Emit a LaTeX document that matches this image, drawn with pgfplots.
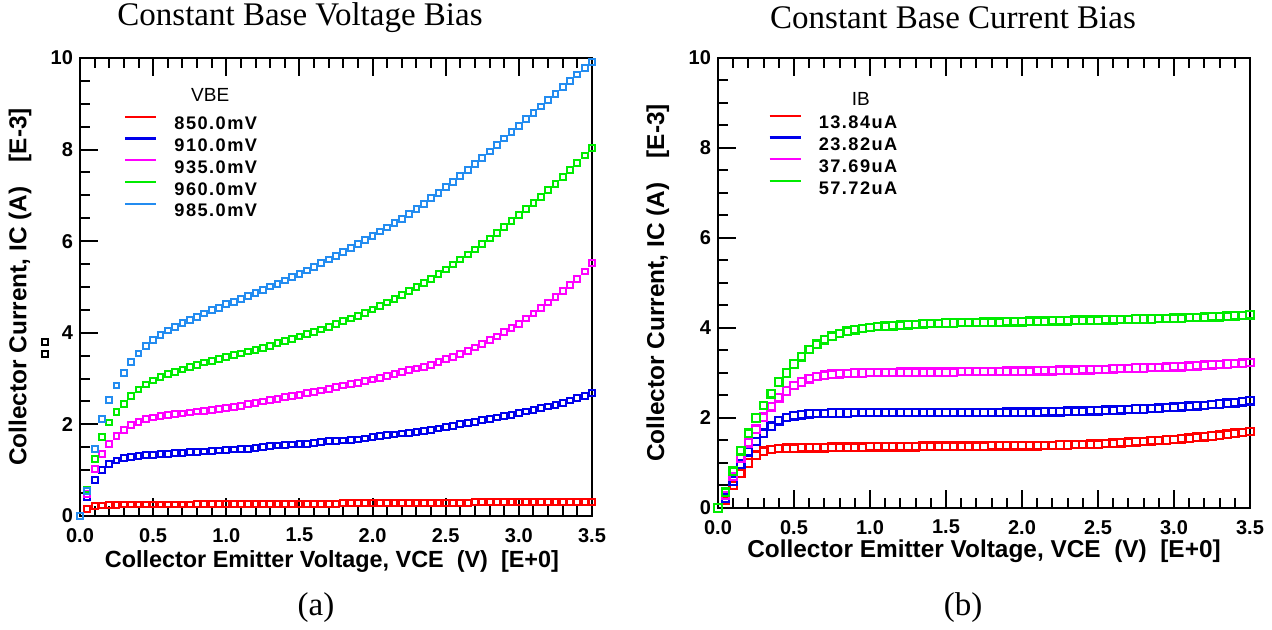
\documentclass[border=0pt]{standalone}
\usepackage{fontspec}
\setmainfont{Liberation Sans}
\newfontfamily\seriffont{Liberation Serif}
\newfontfamily\legfont[LetterSpace=8]{Liberation Sans}
\usepackage{pgfplots}
\usepackage{pgfplotstable}
\pgfplotsset{compat=1.18}

\definecolor{cred}{RGB}{255,0,0}
\definecolor{cblue}{RGB}{0,0,235}
\definecolor{cmag}{RGB}{255,0,255}
\definecolor{cgreen}{RGB}{0,235,0}
\definecolor{clblue}{RGB}{35,140,240}

\pgfplotstableread{
v r b m g lb
0.00 0.00 0.00 0.00 0.00 0.00
0.05 0.15 0.42 0.48 0.58 0.55
0.10 0.21 0.78 1.03 1.24 1.46
0.15 0.23 1.01 1.36 1.73 2.12
0.20 0.24 1.13 1.58 2.04 2.54
0.25 0.24 1.21 1.74 2.27 2.85
0.30 0.25 1.26 1.88 2.45 3.12
0.35 0.25 1.29 1.98 2.62 3.36
0.40 0.25 1.31 2.06 2.76 3.55
0.45 0.25 1.33 2.11 2.87 3.71
0.50 0.25 1.34 2.15 2.96 3.84
0.55 0.25 1.35 2.18 3.03 3.95
0.60 0.25 1.36 2.20 3.10 4.05
0.65 0.25 1.37 2.22 3.15 4.13
0.70 0.25 1.38 2.24 3.20 4.21
0.75 0.25 1.39 2.26 3.25 4.28
0.80 0.26 1.40 2.28 3.30 4.35
0.85 0.26 1.41 2.30 3.35 4.42
0.90 0.26 1.42 2.32 3.39 4.49
0.95 0.26 1.43 2.34 3.43 4.55
1.00 0.26 1.44 2.36 3.47 4.62
1.05 0.26 1.45 2.38 3.51 4.68
1.10 0.26 1.46 2.41 3.55 4.74
1.15 0.26 1.47 2.44 3.59 4.80
1.20 0.26 1.49 2.47 3.63 4.87
1.25 0.26 1.51 2.50 3.67 4.94
1.30 0.27 1.53 2.53 3.72 5.01
1.35 0.27 1.54 2.56 3.77 5.07
1.40 0.27 1.55 2.59 3.82 5.14
1.45 0.27 1.56 2.62 3.87 5.21
1.50 0.27 1.57 2.65 3.92 5.28
1.55 0.27 1.58 2.68 3.97 5.36
1.60 0.27 1.60 2.71 4.02 5.44
1.65 0.27 1.61 2.74 4.07 5.52
1.70 0.27 1.63 2.78 4.13 5.60
1.75 0.27 1.64 2.82 4.19 5.68
1.80 0.28 1.65 2.85 4.25 5.76
1.85 0.28 1.66 2.88 4.31 5.85
1.90 0.28 1.67 2.91 4.37 5.94
1.95 0.28 1.69 2.94 4.44 6.03
2.00 0.28 1.72 2.98 4.51 6.12
2.05 0.28 1.74 3.02 4.58 6.21
2.10 0.28 1.76 3.06 4.66 6.30
2.15 0.28 1.78 3.10 4.74 6.39
2.20 0.28 1.80 3.14 4.82 6.48
2.25 0.29 1.82 3.18 4.91 6.59
2.30 0.29 1.84 3.22 5.00 6.70
2.35 0.29 1.86 3.26 5.09 6.82
2.40 0.29 1.88 3.30 5.18 6.94
2.45 0.29 1.91 3.36 5.28 7.06
2.50 0.29 1.94 3.42 5.38 7.18
2.55 0.29 1.97 3.48 5.49 7.30
2.60 0.29 2.00 3.54 5.60 7.42
2.65 0.29 2.03 3.61 5.71 7.55
2.70 0.30 2.06 3.68 5.82 7.68
2.75 0.30 2.09 3.76 5.94 7.82
2.80 0.30 2.12 3.84 6.06 7.96
2.85 0.30 2.15 3.92 6.18 8.10
2.90 0.30 2.18 4.01 6.31 8.24
2.95 0.30 2.21 4.10 6.44 8.38
3.00 0.30 2.25 4.20 6.57 8.52
3.05 0.30 2.28 4.31 6.70 8.66
3.10 0.30 2.31 4.42 6.83 8.80
3.15 0.31 2.35 4.54 6.97 8.94
3.20 0.31 2.39 4.66 7.11 9.08
3.25 0.31 2.43 4.78 7.25 9.22
3.30 0.31 2.47 4.91 7.40 9.36
3.35 0.31 2.52 5.04 7.55 9.50
3.40 0.31 2.57 5.18 7.71 9.64
3.45 0.31 2.62 5.34 7.87 9.78
3.50 0.31 2.68 5.52 8.03 9.92
}\vbetable

\pgfplotstableread{
v r b m g
0.00 0.00 0.00 0.00 0.00
0.05 0.17 0.22 0.28 0.35
0.10 0.50 0.60 0.70 0.82
0.15 0.77 0.97 1.10 1.27
0.20 1.00 1.25 1.45 1.66
0.25 1.17 1.48 1.75 2.00
0.30 1.26 1.66 2.02 2.28
0.35 1.30 1.82 2.25 2.54
0.40 1.32 1.94 2.45 2.80
0.45 1.33 2.01 2.60 3.00
0.50 1.33 2.05 2.72 3.20
0.55 1.34 2.07 2.80 3.36
0.60 1.34 2.09 2.87 3.52
0.65 1.34 2.10 2.92 3.64
0.70 1.34 2.10 2.95 3.74
0.75 1.35 2.11 2.97 3.82
0.80 1.35 2.11 2.98 3.88
0.85 1.35 2.11 2.99 3.93
0.90 1.35 2.12 3.00 3.96
0.95 1.35 2.12 3.00 3.99
1.00 1.36 2.12 3.01 4.01
1.05 1.36 2.12 3.01 4.03
1.10 1.36 2.12 3.01 4.04
1.15 1.36 2.12 3.01 4.05
1.20 1.36 2.12 3.02 4.06
1.25 1.36 2.12 3.02 4.07
1.30 1.36 2.12 3.02 4.08
1.35 1.37 2.12 3.02 4.09
1.40 1.37 2.12 3.02 4.10
1.45 1.37 2.12 3.02 4.10
1.50 1.37 2.12 3.02 4.11
1.55 1.37 2.12 3.02 4.11
1.60 1.37 2.12 3.03 4.12
1.65 1.37 2.12 3.03 4.12
1.70 1.37 2.12 3.03 4.12
1.75 1.37 2.12 3.03 4.13
1.80 1.38 2.12 3.03 4.13
1.85 1.38 2.12 3.03 4.13
1.90 1.38 2.13 3.04 4.14
1.95 1.38 2.13 3.04 4.14
2.00 1.38 2.13 3.04 4.14
2.05 1.38 2.13 3.04 4.15
2.10 1.38 2.13 3.05 4.15
2.15 1.39 2.14 3.05 4.15
2.20 1.39 2.14 3.05 4.16
2.25 1.40 2.14 3.06 4.16
2.30 1.40 2.15 3.06 4.16
2.35 1.41 2.15 3.06 4.17
2.40 1.41 2.15 3.07 4.17
2.45 1.42 2.16 3.07 4.17
2.50 1.42 2.16 3.08 4.17
2.55 1.43 2.17 3.08 4.18
2.60 1.44 2.17 3.09 4.18
2.65 1.45 2.18 3.10 4.19
2.70 1.46 2.19 3.10 4.19
2.75 1.47 2.20 3.11 4.20
2.80 1.48 2.20 3.11 4.20
2.85 1.49 2.21 3.12 4.20
2.90 1.50 2.22 3.12 4.21
2.95 1.51 2.23 3.13 4.21
3.00 1.52 2.24 3.14 4.22
3.05 1.54 2.25 3.14 4.22
3.10 1.55 2.26 3.15 4.23
3.15 1.57 2.27 3.16 4.23
3.20 1.58 2.28 3.17 4.24
3.25 1.60 2.30 3.18 4.25
3.30 1.62 2.31 3.19 4.25
3.35 1.64 2.33 3.20 4.26
3.40 1.66 2.34 3.21 4.27
3.45 1.68 2.36 3.22 4.28
3.50 1.70 2.38 3.23 4.29
}\ibtable

\pgfplotsset{
  myaxis/.style={
    scale only axis,
    xmin=0, xmax=3.5, ymin=0, ymax=10,
    xtick={0,0.5,1,1.5,2,2.5,3,3.5},
    ytick={0,2,4,6,8,10},
    minor x tick num=4, minor y tick num=3,
    tick align=inside, xtick pos=both, ytick pos=left,
    xticklabel pos=lower,
    axis line style={line width=1.4pt},
    major tick length=9pt, minor tick length=5pt,
    every tick/.style={black, line width=1pt},
    xticklabel style={yshift=-2.5pt, /pgf/number format/.cd, fixed, fixed zerofill, precision=1},
    /pgf/number format/assume math mode=true,
    ticklabel style={font=\bfseries\fontsize{10}{12}\selectfont},
    clip=false,
    legend style={draw=none, fill=none, font=\legfont\bfseries\fontsize{9.1}{11}\selectfont,
      inner sep=0pt, row sep=3.9pt, legend cell align=left,
      nodes={inner sep=0pt, text height=6.5pt, text depth=0pt},
      /tikz/every odd column/.append style={column sep=8.5pt}},
    legend image code/.code={\draw[##1, line width=1.1pt] (0pt,3.2pt) -- (15.5pt,3.2pt);},
  },
  smk/.style={only marks, mark=square, mark size=1.45pt, mark options={line width=1pt}, forget plot},
  bmk/.style={only marks, mark=square, mark size=1.85pt, mark options={line width=1.15pt}, forget plot},
}

\begin{document}
\begin{tikzpicture}
\useasboundingbox (0,0) rectangle (636pt,315pt);

\node[font=\seriffont\fontsize{16.5}{19}\selectfont] at (150pt,306pt) {Constant Base Voltage Bias};
\node[font=\seriffont\fontsize{16.5}{19}\selectfont] at (476.5pt,306pt) {Constant Base Current Bias};
\node[font=\seriffont\fontsize{16.5}{19}\selectfont] at (158pt,11pt) {(a)};
\node[font=\seriffont\fontsize{16.5}{19}\selectfont] at (481.5pt,11pt) {(b)};

% small stray squares beside the left y label
\draw[line width=0.6pt] (21pt,142.5pt) rectangle (24pt,145.5pt);
\draw[line width=0.6pt] (21pt,136.5pt) rectangle (24pt,139.5pt);

\begin{axis}[myaxis,
  at={(40pt,57pt)}, anchor=south west,
  width=256pt, height=229pt,
  xlabel={Collector Emitter Voltage, VCE\ \ (V)\ \ [E+0]},
  ylabel={Collector Current, IC (A)\quad[E-3]},
  x label style={at={(axis description cs:0.492,-0.10)}, anchor=center, font=\bfseries\fontsize{11.7}{13}\selectfont},
  y label style={at={(axis description cs:-0.117,0.5)}, anchor=center, font=\bfseries\fontsize{12.2}{14}\selectfont},
  legend style={at={(axis cs:0.30,8.75)}, anchor=north west},
]
\addlegendimage{cred}
\addlegendimage{cblue}
\addlegendimage{cmag}
\addlegendimage{cgreen}
\addlegendimage{clblue}
\addplot[smk, cred] table[x=v, y=r] {\vbetable};
\addplot[smk, cblue] table[x=v, y=b] {\vbetable};
\addplot[smk, cmag] table[x=v, y=m] {\vbetable};
\addplot[smk, cgreen] table[x=v, y=g] {\vbetable};
\addplot[smk, clblue] table[x=v, y=lb] {\vbetable};
\legend{850.0mV, 910.0mV, 935.0mV, 960.0mV, 985.0mV}
\node[font=\fontsize{9.5}{11}\selectfont] at (axis cs:0.89,9.19) {VBE};
\end{axis}

\begin{axis}[myaxis,
  at={(359pt,61pt)}, anchor=south west,
  width=266pt, height=225pt,
  xlabel={Collector Emitter Voltage, VCE\ \ (V)\ \ [E+0]},
  ylabel={Collector Current, IC (A)\quad[E-3]},
  x label style={at={(axis description cs:0.5,-0.096)}, anchor=center, font=\bfseries\fontsize{12.2}{14}\selectfont},
  y label style={at={(axis description cs:-0.113,0.5)}, anchor=center, font=\bfseries\fontsize{12.2}{14}\selectfont},
  legend style={at={(axis cs:0.33,8.75)}, anchor=north west},
]
\addlegendimage{cred}
\addlegendimage{cblue}
\addlegendimage{cmag}
\addlegendimage{cgreen}
\addplot[bmk, cred] table[x=v, y=r] {\ibtable};
\addplot[bmk, cblue] table[x=v, y=b] {\ibtable};
\addplot[bmk, cmag] table[x=v, y=m] {\ibtable};
\addplot[bmk, cgreen] table[x=v, y=g] {\ibtable};
\legend{13.84uA, 23.82uA, 37.69uA, 57.72uA}
\node[font=\fontsize{9.5}{11}\selectfont] at (axis cs:0.94,9.09) {IB};
\end{axis}
\end{tikzpicture}
\end{document}
